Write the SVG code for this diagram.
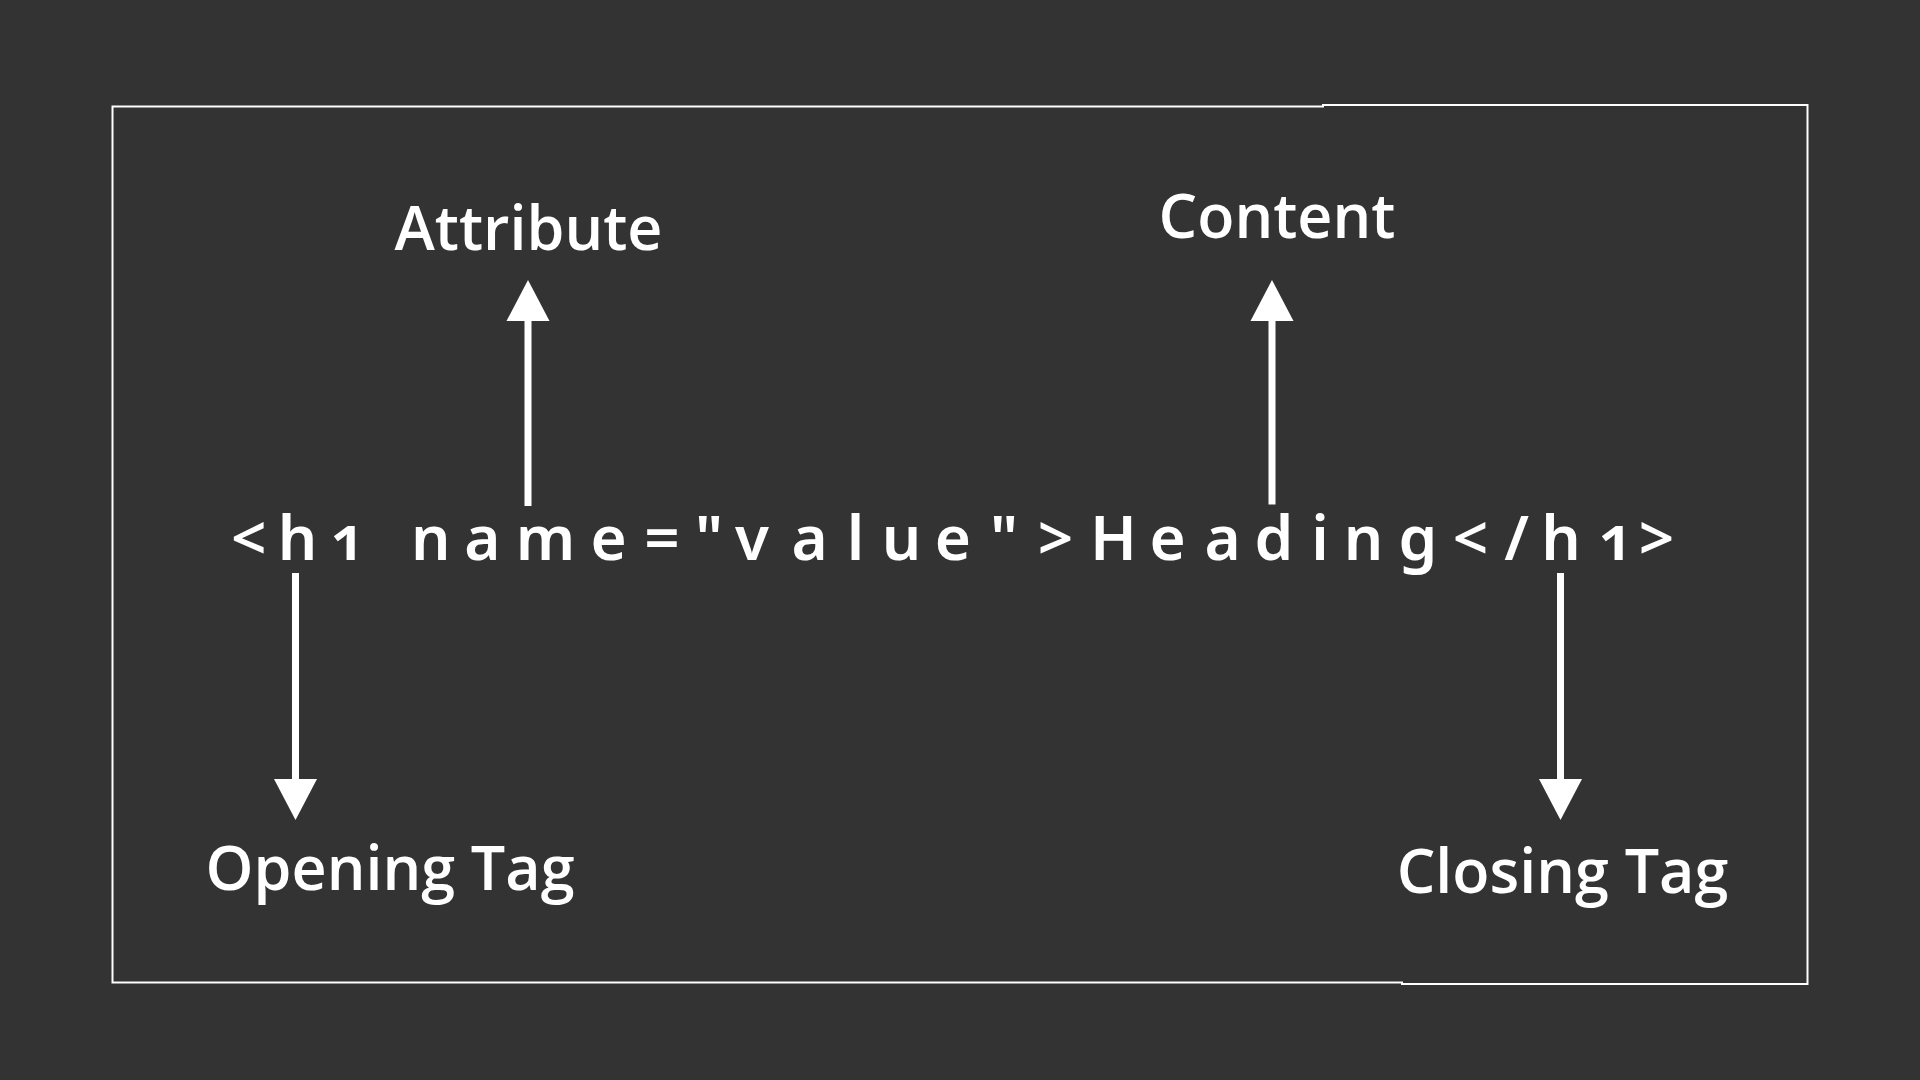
<svg xmlns="http://www.w3.org/2000/svg" width="1920" height="1080" viewBox="0 0 1920 1080">
<style>
.lbl{font-family:"Open Sans","Noto Sans","Liberation Sans",sans-serif;font-size:61px;font-weight:600;fill:#ffffff}
.code{font-family:"Noto Sans","Open Sans","Liberation Sans",sans-serif;font-size:62px;font-weight:600;fill:#ffffff;font-variant-numeric:oldstyle-nums;font-feature-settings:"onum" 1}
.shaft{stroke:#ffffff;stroke-width:7;fill:none}
.head{fill:#ffffff}
.frame{fill:none;stroke:#ffffff;stroke-width:2}
</style>
<rect x="0" y="0" width="1920" height="1080" fill="#333333"/>
<path class="frame" d="M112.5 106.5 H1323 V105 H1807.5 V984 H1402 V982.5 H112.5 Z"/>
<g id="code">
<text class="code" y="560" text-anchor="middle" x="248.8 297.6 348 430.8 482.4 545.6 608.7 662 709 752 809.6 855.6 901.5 953 1004 1055.5 1113.4 1167.6 1222.7 1274 1320 1363.6 1417.8 1470.6 1516.5 1561 1616 1656.6">&lt;h1name="value"&gt;Heading&lt;/h1&gt;</text>
</g>
<g id="attribute"><text class="lbl" x="528.5" y="250" text-anchor="middle">Attribute</text></g>
<g id="content"><text class="lbl" x="1277" y="238" text-anchor="middle">Content</text></g>
<g id="opening-tag"><text class="lbl" x="390" y="890" text-anchor="middle">Opening Tag</text></g>
<g id="closing-tag"><text class="lbl" x="1562.5" y="893" text-anchor="middle">Closing Tag</text></g>
<g id="connectors">
<line class="shaft" x1="528" y1="506" x2="528" y2="318"/>
<polygon class="head" points="528,280 549.5,321 506.5,321"/>
<line class="shaft" x1="1272" y1="504.5" x2="1272" y2="318"/>
<polygon class="head" points="1272,280 1293.5,321 1250.5,321"/>
<line class="shaft" x1="295.5" y1="573" x2="295.5" y2="781"/>
<polygon class="head" points="295.5,820 317,779 274,779"/>
<line class="shaft" x1="1560.5" y1="573" x2="1560.5" y2="781"/>
<polygon class="head" points="1560.5,820 1582,779 1539,779"/>
</g>
</svg>
